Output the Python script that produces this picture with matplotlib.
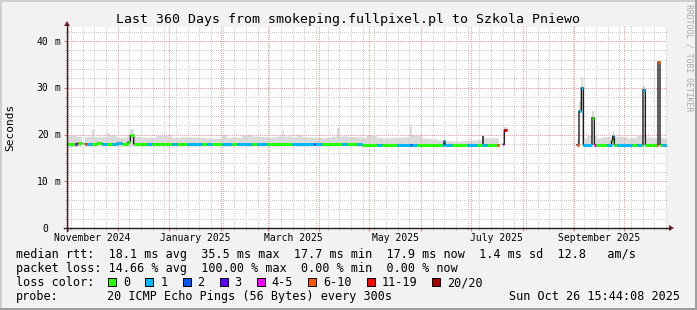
import numpy as np
import matplotlib
matplotlib.use("Agg")
import matplotlib.pyplot as plt
from matplotlib.patches import Rectangle, Polygon
from matplotlib.lines import Line2D

nan = np.nan

# ---------------- data ----------------
title = "Last 360 Days from smokeping.fullpixel.pl to Szkola Pniewo"
end_time = "2025-10-26T15:44:08"
span_days = 360
bin_days = 3

# median rtt (ms) per 3-day bin
bin_median = [
    18.0, 18.0, 18.1, nan, 18.0, 18.0, 18.1, 18.0, 18.0, 18.0,
    18.1, 18.0, 18.0, 18.0, 18.0, 17.9, 18.0, 18.0, 17.9, 18.0,
    17.9, 17.9, 18.0, 17.9, 17.9, 17.9, 17.9, 17.9, 17.9, 17.9,
    17.9, 17.9, 17.9, 17.9, 17.9, 17.9, 17.9, 17.9, 17.9, 17.9,
    17.9, 17.9, 17.9, 17.9, 17.9, 17.9, 17.9, 17.9, 17.9, 17.9,
    17.9, 17.9, 17.9, 17.9, 17.9, 17.9, 17.9, 17.9, 17.9, 17.8,
    17.8, 17.8, 17.8, 17.8, 17.8, 17.8, 17.8, 17.8, 17.8, 17.8,
    17.8, 17.8, 17.8, 17.8, 17.8, 17.8, 17.8, 17.8, 17.8, 17.8,
    17.8, 17.8, 17.8, 17.8, 17.8, 17.8, nan, nan, nan, nan,
    nan, nan, nan, nan, nan, nan, nan, nan, nan, nan,
    nan, nan, 17.8, 17.8, 17.8, 17.8, 17.8, 17.8, 17.8, 17.8,
    17.8, 17.8, 17.8, 17.8, 17.8, 17.8, 17.8, 17.8, 17.8, 17.8,
]
# top of the smoke (ms) per bin
bin_smoke_top = [
    19.7, 19.7, 19.5, nan, 19.5, 19.4, 19.4, 19.5, 19.8, 19.8,
    19.3, 19.3, 19.5, 19.5, 19.5, 19.3, 19.3, 19.3, 19.7, 19.7,
    19.6, 19.3, 19.3, 19.4, 19.4, 19.3, 19.3, 19.3, 19.2, 19.1,
    19.1, 19.9, 19.3, 19.4, 19.3, 19.8, 19.9, 19.6, 19.5, 19.5,
    19.3, 19.4, 19.6, 19.5, 19.6, 19.4, 19.9, 19.5, 19.4, 19.3,
    19.3, 19.2, 19.3, 19.5, 19.5, 19.6, 19.5, 19.5, 19.4, 19.3,
    19.7, 19.7, 19.3, 19.2, 19.2, 19.3, 19.3, 19.4, 19.5, 19.9,
    19.8, 19.2, 19.1, 19.0, 18.8, 18.7, 18.6, 18.5, 18.5, 18.6,
    18.7, 18.7, 18.8, 19.2, 19.2, 19.2, nan, nan, nan, nan,
    nan, nan, nan, nan, nan, nan, nan, nan, nan, nan,
    nan, nan, 19.0, 19.2, 19.7, 19.7, 19.2, 19.4, 19.5, 19.5,
    19.5, 19.5, 19.2, 19.3, 19.7, 19.7, 19.4, 19.2, 19.3, 19.2,
]
smoke_floor = 17.4
# loss colour index per bin (-1 = no data)
bin_loss = [
    0, 0, 0, -1, 1, 0, 0, 1, 0, 1,
    1, 0, 0, 0, 0, 0, 1, 0, 0, 0,
    0, 1, 0, 0, 1, 1, 1, 0, 1, 0,
    0, 1, 1, 0, 1, 1, 1, 0, 1, 1,
    0, 0, 0, 0, 0, 1, 1, 1, 1, 1,
    1, 0, 0, 0, 0, 1, 0, 0, 1, 0,
    0, 0, 1, 0, 0, 0, 1, 1, 1, 1,
    0, 0, 0, 0, 0, 1, 1, 0, 0, 0,
    1, 1, 0, 1, 0, 0, -1, -1, -1, -1,
    -1, -1, -1, -1, -1, -1, -1, -1, -1, -1,
    -1, -1, 0, 1, 1, 0, 0, 0, 1, 0,
    1, 1, 1, 0, 1, 0, 0, 0, 0, 1,
]
# short events (days since start); nan / -9 = keep bin value
ev_start  = [4.8, 5.7, 10.8, 15.0, 24.0, 36.6, 38.0, 129.4, 148.2, 162.0, 205.8, 226.2, 258.0,
             261.6, 262.4, 306.0, 307.2, 308.6, 315.0, 316.4, 326.7, 327.4, 345.6, 354.0, 354.6]
ev_end    = [5.7, 6.6, 12.0, 16.2, 25.8, 38.0, 40.0, 130.2, 148.8, 163.8, 207.0, 226.8, 259.2,
             262.4, 264.0, 307.2, 308.6, 309.8, 316.4, 317.4, 327.4, 328.4, 347.0, 354.6, 355.8]
ev_median = [nan, nan, 18.0, nan, nan, 18.4, 19.8, nan, nan, nan, nan, 18.6, 17.8,
             17.9, 21.0, nan, 25.0, 30.0, 23.6, nan, 18.6, 19.6, 29.6, nan, 35.5]
ev_loss   = [3, 5, 5, -9, -9, 0, 0, -9, 3, -9, 2, 1, 5,
             4, 6, 5, 1, 1, 0, 4, 0, 1, 1, 6, 5]
ev_smoke_lo = [nan, nan, 17.4, nan, nan, nan, nan, nan, nan, nan, nan, nan, 17.4,
               17.4, 20.6, nan, 24.6, 29.6, 23.2, nan, nan, nan, 29.2, nan, 35.1]
ev_smoke_hi = [nan, nan, 19.5, 21.0, 20.3, nan, 21.2, 21.0, nan, 21.4, 22.0, nan, 19.2,
               18.4, 21.7, nan, 27.0, 32.3, 25.0, nan, nan, 20.7, 30.4, nan, 35.9]
dark_start, dark_end, dark_lo, dark_hi = [249.0], [250.4], [17.8], [19.6]

loss_labels = ["0", "1", "2", "3", "4-5", "6-10", "11-19", "20/20"]
loss_colors = ["#26ff00", "#00b8ff", "#0059ff", "#5e00ff", "#ff00ff", "#ff5500", "#ff0000", "#a10000"]

y_ticks = [0, 10, 20, 30, 40]
y_tick_labels = ["0", "10", "20", "30", "40"]
month_labels = ["November 2024", "January 2025", "March 2025", "May 2025", "July 2025", "September 2025"]
month_label_starts = ["2024-11-01", "2025-01-01", "2025-03-01", "2025-05-01", "2025-07-01", "2025-09-01"]
month_label_ends = ["2024-12-01", "2025-02-01", "2025-04-01", "2025-06-01", "2025-08-01", "2025-10-01"]
month_starts = ["2024-11-01", "2024-12-01", "2025-01-01", "2025-02-01", "2025-03-01", "2025-04-01",
                "2025-05-01", "2025-06-01", "2025-07-01", "2025-08-01", "2025-09-01", "2025-10-01"]
first_sunday = "2024-11-03"

rtt_line = "median rtt:  18.1 ms avg  35.5 ms max  17.7 ms min  17.9 ms now  1.4 ms sd  12.8   am/s"
loss_line = "packet loss: 14.66 % avg  100.00 % max  0.00 % min  0.00 % now"
probe_text = "20 ICMP Echo Pings (56 Bytes) every 300s"
date_text = "Sun Oct 26 15:44:08 2025"
y_label = "Seconds"
credit = "RRDTOOL / TOBI OETIKER"

# ---------------- layout ----------------
W, H, DPI = 697, 310, 100
MONO = "DejaVu Sans Mono"
fig = plt.figure(figsize=(W / DPI, H / DPI), dpi=DPI, facecolor="#f2f2f2")


def fx(px):
    return px / W


def fy(py):
    return 1 - py / H


PL, PR, PT, PB = 67, 667, 27, 228
YMAX = 43.0
ax = fig.add_axes([fx(PL), fy(PB), (PR - PL) / W, (PB - PT) / H])
ax.set_facecolor("white")
for s in ax.spines.values():
    s.set_visible(False)

end = np.datetime64(end_time)
start = end - np.timedelta64(span_days, "D")


def dday(d):
    return (np.datetime64(d) - start) / np.timedelta64(1, "s") / 86400.0


# ---------------- rasterise series ----------------
RES = 10
n = span_days * RES
med = np.full(n, nan)
loss = np.full(n, -1, dtype=int)
slo = np.full(n, nan)
shi = np.full(n, nan)
for i in range(len(bin_median)):
    a, b = i * bin_days * RES, (i + 1) * bin_days * RES
    med[a:b] = bin_median[i]
    loss[a:b] = bin_loss[i]
    if not np.isnan(bin_median[i]):
        slo[a:b] = smoke_floor
        shi[a:b] = bin_smoke_top[i]
for k in range(len(ev_start)):
    a, b = int(round(ev_start[k] * RES)), int(round(ev_end[k] * RES))
    if not np.isnan(ev_median[k]):
        med[a:b] = ev_median[k]
    if ev_loss[k] != -9:
        loss[a:b] = ev_loss[k]
    if not np.isnan(ev_smoke_lo[k]):
        slo[a:b] = ev_smoke_lo[k]
    elif not np.isnan(ev_smoke_hi[k]):
        slo[a:b] = np.where(np.isnan(slo[a:b]), smoke_floor, slo[a:b])
    if not np.isnan(ev_smoke_hi[k]):
        shi[a:b] = ev_smoke_hi[k]

t = np.arange(n) / RES
edges = np.append(t, span_days)

# smoke
ax.fill_between(edges, np.append(slo, slo[-1]), np.append(shi, shi[-1]), step="post",
                color="#dadada", linewidth=0, zorder=1)
for a, b, lo, hi in zip(dark_start, dark_end, dark_lo, dark_hi):
    ax.fill_between([a, b], [lo, lo], [hi, hi], color="#4a4a4a", linewidth=0, zorder=1.2)

# ticks
month_days = [dday(m) for m in month_starts]
sundays = np.arange(dday(first_sunday), span_days, 7.0)
y_major = [10, 20, 30, 40]
y_minor = np.arange(2, YMAX, 2)
ax.set_xticks(month_days)
ax.set_xticks(sundays, minor=True)
ax.set_yticks(y_major)
ax.set_yticks(y_minor, minor=True)
ax.tick_params(which="major", length=2.2, width=0.72, color="#e07070", direction="out",
               labelbottom=False, labelleft=False)
ax.tick_params(which="minor", length=1.5, width=0.72, color="#bdbdbd", direction="out")

# dotted pixel grid (1 on / 1 off), positioned via the axis scales
GW, GH = PR - PL, PB - PT
grid = np.zeros((GH, GW, 4))
minor_rgba = (0.80, 0.80, 0.80, 1.0)
major_rgba = (0.95, 0.62, 0.62, 1.0)


def col_of(d):
    return int(round(d * GW / span_days))


def row_of(v):
    return int(round((YMAX - v) * GH / YMAX))


for d in sundays:
    c = col_of(d)
    if 0 <= c < GW:
        grid[0::2, c] = minor_rgba
for v in y_minor:
    r = row_of(v)
    if 0 <= r < GH:
        grid[r, 1::2] = minor_rgba
for d in month_days:
    c = col_of(d)
    if 0 <= c < GW:
        grid[0::2, c] = major_rgba
for v in y_major:
    r = row_of(v)
    if 0 <= r < GH:
        grid[r, 1::2] = major_rgba
ax.imshow(grid, extent=(0, span_days, 0, YMAX), aspect="auto", interpolation="nearest",
          origin="upper", zorder=1.5)
ax.set_xlim(0, span_days)
ax.set_ylim(0, YMAX)

# median line (dark) and loss-coloured segments
ax.plot(edges, np.append(med, med[-1]), drawstyle="steps-post", color="#1c1c1c",
        linewidth=1.0, zorder=2)
i = 0
while i < n:
    if loss[i] < 0 or np.isnan(med[i]):
        i += 1
        continue
    j = i
    while j < n and loss[j] == loss[i] and med[j] == med[i]:
        j += 1
    ax.hlines(med[i], t[i], edges[j], colors=loss_colors[loss[i]], linewidth=2.16,
              capstyle="butt", zorder=3)
    i = j

# axes lines + arrows (figure pixel coords)
fig.add_artist(Line2D([fx(64), fx(670)], [fy(228), fy(228)], color="#1f1f1f", lw=1.0))
fig.add_artist(Line2D([fx(67), fx(67)], [fy(231), fy(24)], color="#3a2222", lw=1.0))
fig.add_artist(Polygon([(fx(669), fy(225)), (fx(674), fy(228)), (fx(669), fy(231))],
                       closed=True, color="#7f1f1f", lw=0))
fig.add_artist(Polygon([(fx(64), fy(26)), (fx(67), fy(21)), (fx(70), fy(26))],
                       closed=True, color="#7f1f1f", lw=0))

# y tick labels
for v, lab in zip(y_ticks, y_tick_labels):
    py = PB - v * (PB - PT) / YMAX
    fig.text(fx(48.6), fy(py + 3.5), lab, ha="right", va="baseline", fontsize=7, family=MONO)
    if v != 0:
        fig.text(fx(54.2), fy(py + 3.5), "m", ha="left", va="baseline", fontsize=7, family=MONO)

# x month labels
for lab, a, b in zip(month_labels, month_label_starts, month_label_ends):
    mid = (dday(a) + dday(b)) / 2
    px = PL + mid * (PR - PL) / span_days
    fig.text(fx(px), fy(241.3), lab, ha="center", va="baseline", fontsize=7, family=MONO)

# title and side texts
fig.text(fx(347.8), fy(23.5), title, ha="center", va="baseline", fontsize=9.5, family=MONO)
fig.text(fx(10.5), fy(127.5), y_label, rotation=90, ha="center", va="center", fontsize=8, family=MONO)
fig.text(fx(688.5), fy(4), credit, rotation=270, ha="center", va="top", fontsize=5.9,
         family=MONO, color="#a9a9a9")

# legend
LX = 16
fig.text(fx(LX), fy(258.3), rtt_line, ha="left", va="baseline", fontsize=8.5, family=MONO)
fig.text(fx(LX), fy(272.3), loss_line, ha="left", va="baseline", fontsize=8.5, family=MONO)
fig.text(fx(LX), fy(286.3), "loss color:", ha="left", va="baseline", fontsize=8.5, family=MONO)
fig.text(fx(LX), fy(300.3), "probe:", ha="left", va="baseline", fontsize=8.5, family=MONO)
fig.text(fx(107), fy(300.3), probe_text, ha="left", va="baseline", fontsize=8.5, family=MONO)
fig.text(fx(680), fy(300.3), date_text, ha="right", va="baseline", fontsize=8.5, family=MONO)

CW = 7.11
sx = 108.3
for lab, col in zip(loss_labels, loss_colors):
    fig.add_artist(Rectangle((fx(sx), fy(286)), 8 / W, 8 / H, facecolor=col,
                             edgecolor="black", lw=0.72))
    fig.text(fx(sx + 15), fy(286.3), lab, ha="left", va="baseline", fontsize=8.5, family=MONO)
    sx = sx + 15 + len(lab) * CW + 15

# 3D frame
fig.add_artist(Rectangle((0, fy(2)), 1, 2 / H, facecolor="#cfcfcf", lw=0))
fig.add_artist(Rectangle((0, 0), 2 / W, 1, facecolor="#cfcfcf", lw=0))
fig.add_artist(Rectangle((0, 0), 1, 2 / H, facecolor="#9e9e9e", lw=0))
fig.add_artist(Rectangle((fx(W - 2), 0), 2 / W, 1, facecolor="#9e9e9e", lw=0))

fig.savefig("out.png", dpi=DPI, facecolor=fig.get_facecolor())
